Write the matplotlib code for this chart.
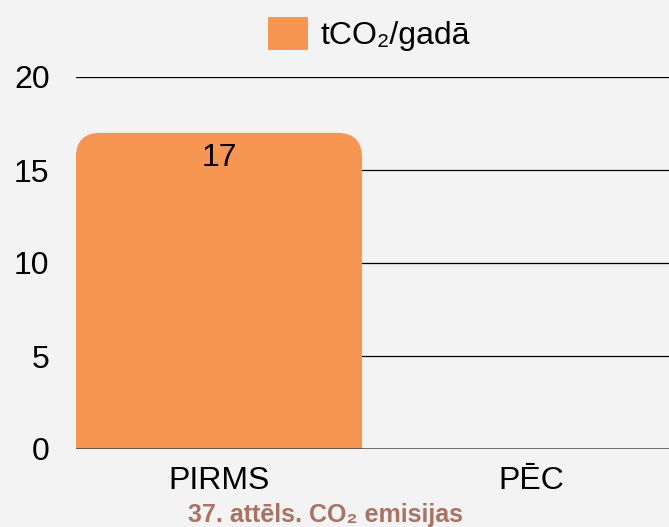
import matplotlib.pyplot as plt
from matplotlib.patches import FancyBboxPatch, Patch

# data
categories = ['PIRMS', 'PĒC']
values = [17, 0]
series_name = 'tCO\u2082/gadā'
caption = '37. attēls. CO\u2082 emisijas'

bg = '#f3f3f3'
bar_color = '#f79552'
caption_color = '#a87364'

plt.rcParams['font.family'] = ['Liberation Sans', 'DejaVu Sans']

fig = plt.figure(figsize=(6.69, 5.27), dpi=100, facecolor=bg)
ax = fig.add_axes([76 / 669, 1 - 449 / 527, 1 - 76 / 669, (449 - 77) / 527])
ax.set_facecolor(bg)

x = list(range(len(categories)))
width = 0.917
bars = ax.bar(x, values, width=width, color=bar_color, zorder=2)

# swap plain rectangles for ones with rounded top corners
for b, v in zip(bars, values):
    b.set_visible(False)
    if v <= 0:
        continue
    x0 = b.get_x()
    w = b.get_width()
    rp = FancyBboxPatch((x0, -3), w, v + 3,
                        boxstyle='round,pad=0,rounding_size=0.08',
                        mutation_aspect=16.5, facecolor=bar_color,
                        edgecolor='none', zorder=2)
    ax.add_patch(rp)
    ax.annotate(f'{v:g}', xy=(b.get_x() + w / 2, v), xytext=(0, -24),
                textcoords='offset points', ha='center', va='baseline',
                fontsize=23, color='black', zorder=3)

ax.set_xlim(-0.458, 1.442)
ax.set_ylim(0, 20)
ax.set_yticks([0, 5, 10, 15, 20])
ax.set_xticks(x)
ax.set_xticklabels(categories)

for y in [5, 10, 15, 20]:
    ax.axhline(y, color='black', linewidth=0.9, zorder=1)
ax.axhline(0, color='#444444', linewidth=1.8, zorder=3)

for s in ax.spines.values():
    s.set_visible(False)
ax.tick_params(axis='y', length=0, pad=19, labelsize=23)
ax.tick_params(axis='x', length=0, pad=12, labelsize=23)

fig.legend(handles=[Patch(facecolor=bar_color, edgecolor='none')],
           labels=[series_name], loc='center',
           bbox_to_anchor=(369 / 669, 1 - 34 / 527), frameon=False,
           fontsize=23, handlelength=1.25, handleheight=1.25,
           handletextpad=0.37, borderpad=0, borderaxespad=0)

fig.text(325 / 669, 5 / 527, caption, ha='center', va='baseline',
         fontsize=18, fontweight='bold', color=caption_color)

fig.savefig('out.png', dpi=100, facecolor=bg)
